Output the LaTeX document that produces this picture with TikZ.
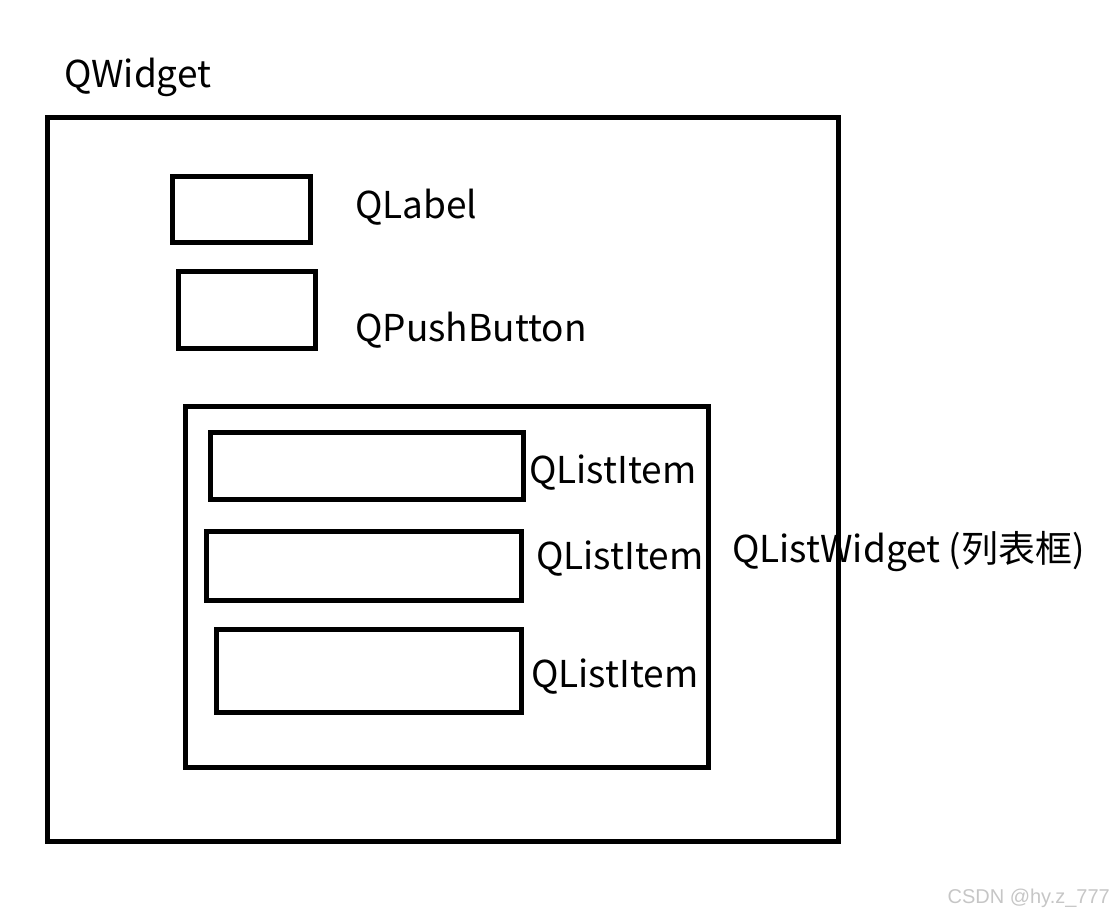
\documentclass[tikz,border=0pt]{standalone}
\usepackage{fontspec}
\setmainfont{Noto Sans CJK SC}
\newfontfamily\markfont{Liberation Sans}
\usetikzlibrary{positioning}

\begin{document}
\begin{tikzpicture}[x=1pt, y=-1pt,
    widgetbox/.style={draw, line width=5pt, inner sep=0pt, outer sep=0pt},
    qtlabel/.style={anchor=west, inner sep=0pt, font=\fontsize{37}{44}\selectfont}]
  \useasboundingbox (0,0) rectangle (1114,918);

  % main window
  \node[widgetbox, minimum width=791, minimum height=724] (qwidget) at (442.5, 479) {};
  \node[qtlabel] (qwidgetname) at (64, 77) {QWidget};

  % label and button
  \node[widgetbox, minimum width=138, minimum height=66] (qlabel) at (241, 209) {};
  \node[qtlabel] (qlabelname) at (355, 207) {QLabel};
  \node[widgetbox, minimum width=137, minimum height=77] (qbutton) at (246.5, 309.5) {};
  \node[qtlabel] (qbuttonname) at (355, 330) {QPushButton};

  % list widget with its items
  \node[widgetbox, minimum width=523, minimum height=361] (qlist) at (446.5, 586.5) {};
  \node[qtlabel] (qlistname) at (732, 552) {QListWidget (列表框)};

  \node[widgetbox, minimum width=313, minimum height=67] (item1) at (366.5, 465.5) {};
  \node[qtlabel] (item1name) at (529, 473) {QListItem};
  \node[widgetbox, minimum width=315, minimum height=69] (item2) at (363.5, 565.5) {};
  \node[qtlabel] (item2name) at (536, 559) {QListItem};
  \node[widgetbox, minimum width=305, minimum height=83] (item3) at (368.5, 670.5) {};
  \node[qtlabel] (item3name) at (531, 677) {QListItem};

  \node[anchor=east, inner sep=0pt, text=gray!45, font=\markfont\fontsize{20}{24}\selectfont] (mark) at (1110, 898) {CSDN @hy.z\_777};
\end{tikzpicture}
\end{document}
